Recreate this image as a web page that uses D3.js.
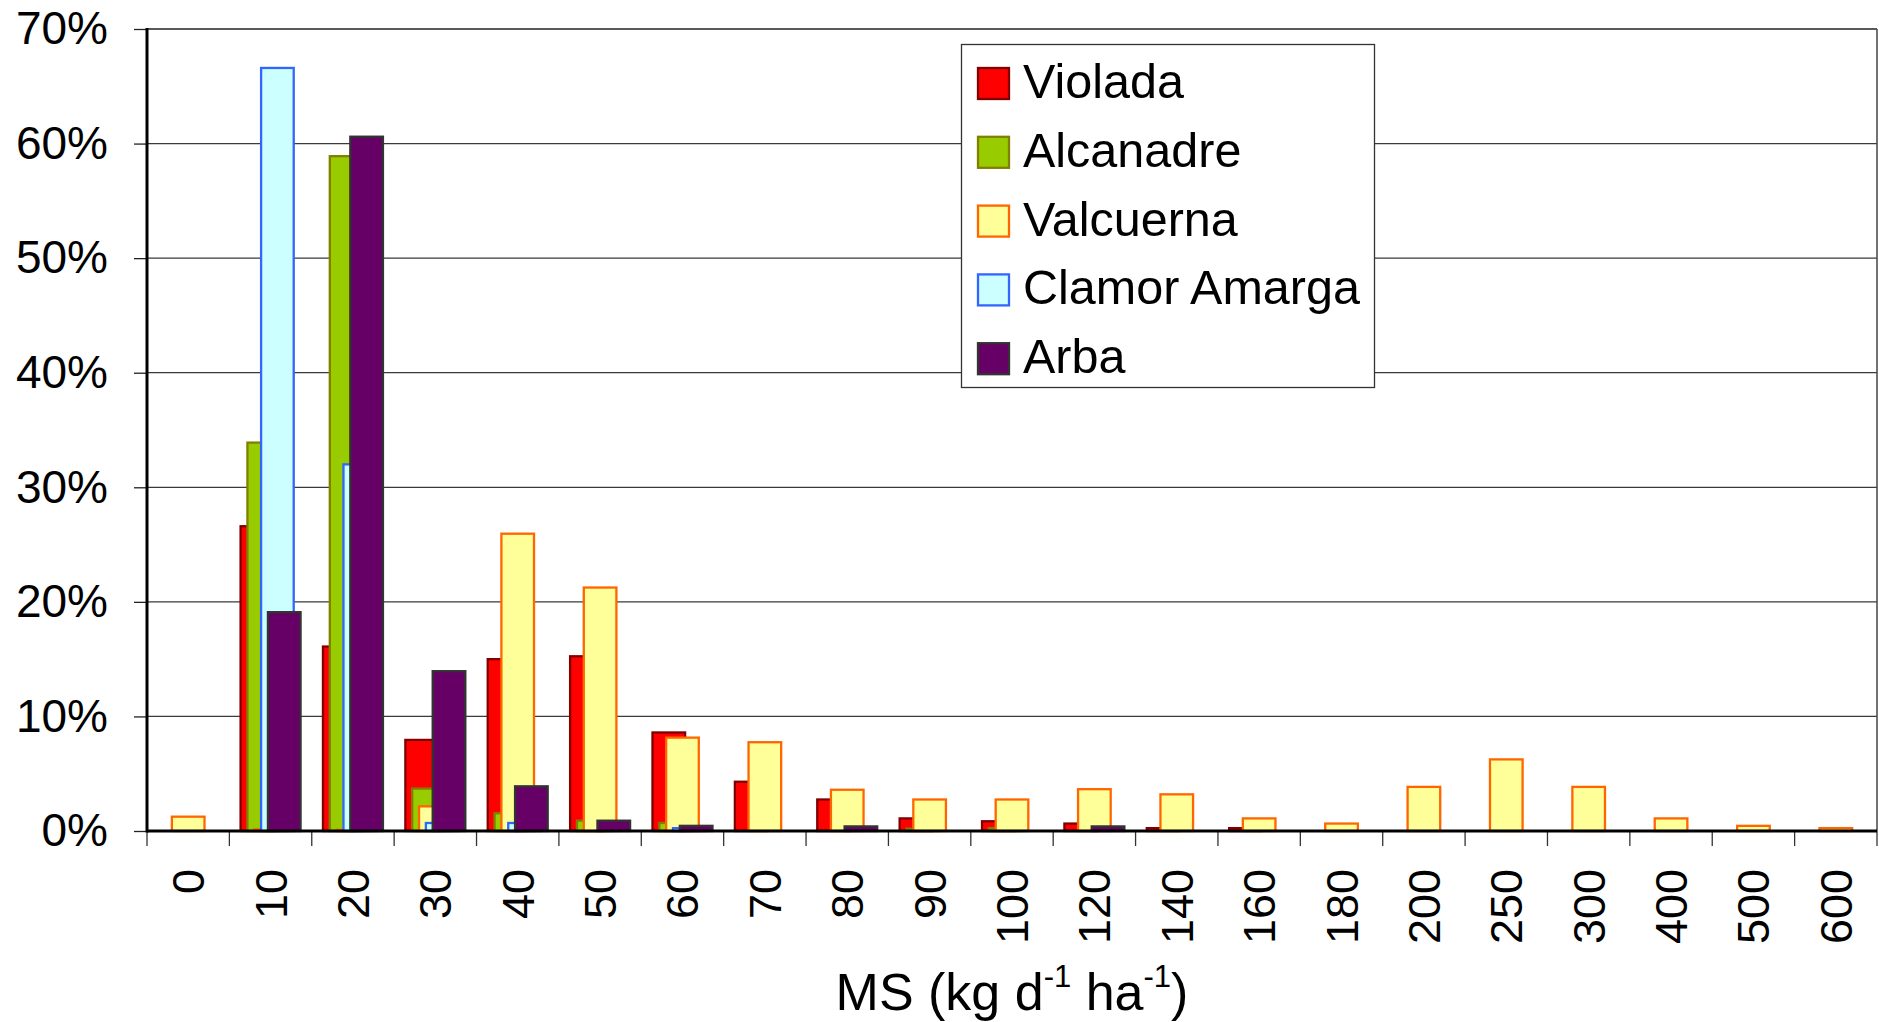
<!DOCTYPE html>
<html>
<head>
<meta charset="utf-8">
<script src="https://cdn.jsdelivr.net/npm/d3@7"></script>
<style>
  html, body { margin: 0; padding: 0; background: #fff; }
  svg { display: block; font-family: "Liberation Sans", Arial, sans-serif; }
</style>
</head>
<body>
<svg id="chart" width="1879" height="1022"></svg>
<script>
const categories = ["0","10","20","30","40","50","60","70","80","90","100","120","140","160","180","200","250","300","400","500","600"];
const seriesNames = ["Violada","Alcanadre","Valcuerna","Clamor Amarga","Arba"];
const violada   = [0, 26.6, 16.1, 7.95, 15.0, 15.25, 8.6, 4.3, 2.75, 1.1, 0.85, 0.65, 0.25, 0.25, 0, 0, 0, 0, 0, 0, 0];
const alcanadre = [0, 33.9, 58.9, 3.7, 1.55, 0.9, 0.7, 0, 0, 0.2, 0.25, 0, 0, 0, 0, 0, 0, 0, 0, 0, 0];
const valcuerna = [1.25, 0.15, 0.1, 2.15, 25.95, 21.25, 8.15, 7.75, 3.6, 2.75, 2.75, 3.65, 3.2, 1.1, 0.65, 3.85, 6.25, 3.85, 1.1, 0.45, 0.25];
const clamor    = [0, 66.6, 32.0, 0.7, 0.7, 0, 0.25, 0, 0, 0, 0, 0, 0, 0, 0, 0, 0, 0, 0, 0, 0];
const arba      = [0, 19.1, 60.6, 13.95, 3.9, 0.9, 0.45, 0, 0.4, 0, 0, 0.4, 0, 0, 0, 0, 0, 0, 0, 0, 0];
const yTicks = [0, 10, 20, 30, 40, 50, 60, 70];
const fills   = ["#FF0000", "#99CC00", "#FFFF99", "#CCFFFF", "#660066"];
const strokes = ["#800000", "#808000", "#FF6600", "#3366FF", "#333333"];

const seriesValues = [violada, alcanadre, valcuerna, clamor, arba];

const L = 147, R = 1877, T = 29, B = 831;
const svg = d3.select("#chart");

const x = d3.scaleBand().domain(categories).range([L, R]).padding(0);
const y = d3.scaleLinear().domain([0, 70]).range([B, T]);
const bw = x.bandwidth();
const barW = bw * 0.396;
const step = bw * 0.083;
const sx = d3.scaleLinear().domain([0, 4]).range([bw * 0.136, bw * 0.136 + 4 * step]);

// gridlines
svg.append("g").selectAll("line").data(yTicks.filter(d => d > 0 && d < 70)).join("line")
  .attr("x1", L).attr("x2", R).attr("y1", d => y(d)).attr("y2", d => y(d))
  .attr("stroke", "#3a3a3a").attr("stroke-width", 1.3);

// frame top & right
svg.append("line").attr("x1", L).attr("x2", R).attr("y1", T).attr("y2", T).attr("stroke", "#222").attr("stroke-width", 1.5);
svg.append("line").attr("x1", R).attr("x2", R).attr("y1", T).attr("y2", B).attr("stroke", "#444").attr("stroke-width", 1.5);

// bars
seriesValues.forEach((vals, si) => {
  svg.append("g").selectAll("rect").data(categories.map((c, i) => ({c, v: vals[i]})).filter(d => d.v > 0)).join("rect")
    .attr("x", d => x(d.c) + sx(si))
    .attr("width", barW)
    .attr("y", d => y(d.v))
    .attr("height", d => B - y(d.v))
    .attr("fill", fills[si])
    .attr("stroke", strokes[si])
    .attr("stroke-width", 2.3);
});

// y axis
const yAxis = d3.axisLeft(y).tickValues(yTicks).tickFormat(d => d + "%").tickSize(13).tickPadding(26);
const gy = svg.append("g").attr("transform", `translate(${L},0)`).call(yAxis);
gy.select(".domain").remove();
gy.selectAll(".tick line").attr("stroke", "#222").attr("stroke-width", 1.3);
gy.selectAll(".tick text").attr("font-size", 46).attr("fill", "#000").attr("font-family", "Liberation Sans, Arial, sans-serif");

// x tick marks at band boundaries
const bounds = categories.map(c => x(c)).concat([R]);
svg.append("g").selectAll("line").data(bounds).join("line")
  .attr("x1", d => d).attr("x2", d => d).attr("y1", B).attr("y2", B + 15)
  .attr("stroke", "#333").attr("stroke-width", 1.3);

// x labels
svg.append("g").selectAll("text").data(categories).join("text")
  .attr("transform", d => `translate(${x(d) + bw / 2 + 16},${869}) rotate(-90)`)
  .attr("text-anchor", "end")
  .attr("font-size", 45)
  .attr("fill", "#000")
  .text(d => d);

// axis lines
svg.append("line").attr("x1", L).attr("x2", L).attr("y1", T - 1).attr("y2", B + 1.5).attr("stroke", "#000").attr("stroke-width", 3);
svg.append("line").attr("x1", L).attr("x2", R).attr("y1", B).attr("y2", B).attr("stroke", "#000").attr("stroke-width", 3);

// x title
const title = svg.append("text").attr("x", (L + R) / 2).attr("y", 1010)
  .attr("text-anchor", "middle").attr("font-size", 52).attr("fill", "#000");
title.append("tspan").text("MS (kg d");
title.append("tspan").attr("font-size", 31).attr("dy", -23).text("-1");
title.append("tspan").attr("dy", 23).text(" ha");
title.append("tspan").attr("font-size", 31).attr("dy", -23).text("-1");
title.append("tspan").attr("dy", 23).text(")");

// legend
const lg = svg.append("g");
lg.append("rect").attr("x", 961.5).attr("y", 44.5).attr("width", 413).attr("height", 343)
  .attr("fill", "#fff").attr("stroke", "#333").attr("stroke-width", 1.3);
seriesNames.forEach((n, i) => {
  lg.append("rect").attr("x", 978).attr("y", 68 + i * 68.8).attr("width", 31).attr("height", 31)
    .attr("fill", fills[i]).attr("stroke", strokes[i]).attr("stroke-width", 2.3);
  lg.append("text").attr("x", 1023).attr("y", 98 + i * 68.8).attr("font-size", 48.5).attr("fill", "#000").text(n);
});
</script>
</body>
</html>
